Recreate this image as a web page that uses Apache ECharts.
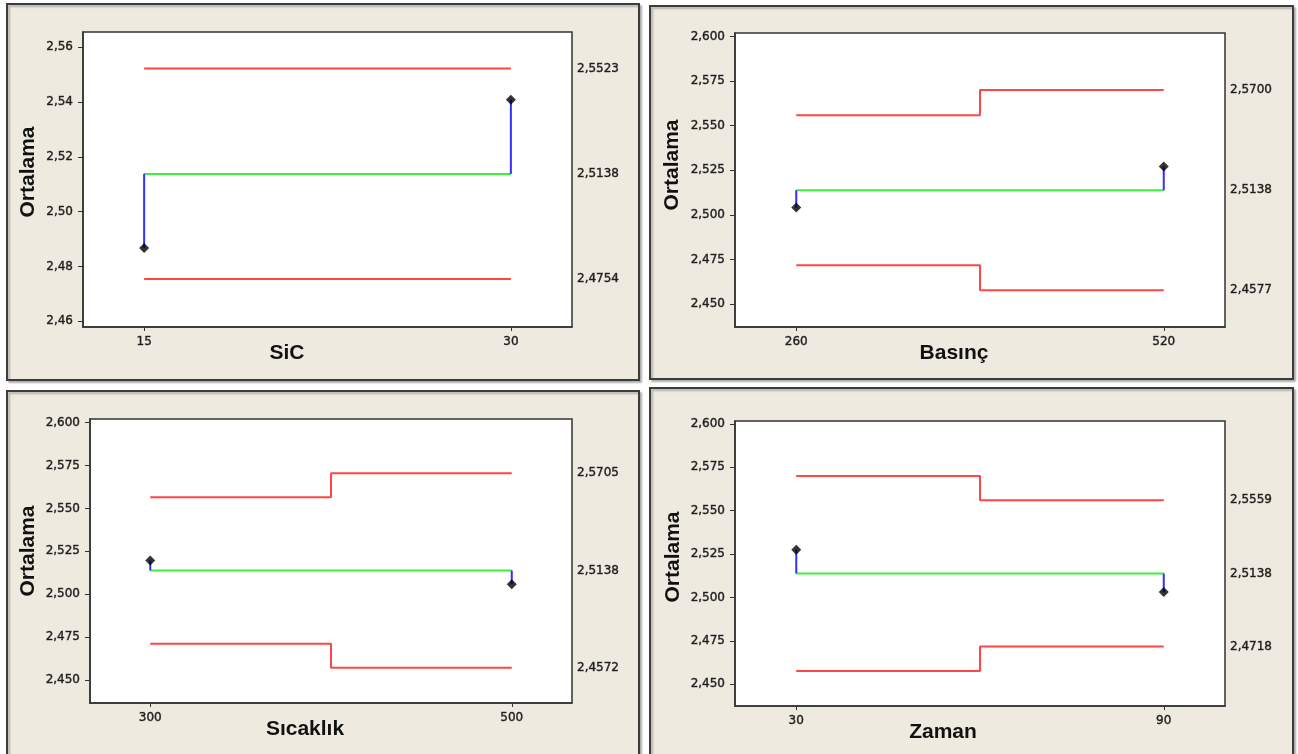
<!DOCTYPE html>
<html><head><meta charset="utf-8">
<script src="https://cdn.jsdelivr.net/npm/echarts@6/dist/echarts.min.js"></script>
<style>html,body{margin:0;padding:0;background:#fff}#c{width:1298px;height:754px}</style>
</head><body><div id="c"></div>
<script>
// ---- data ----
const grandMean = 2.5138;

const sicLevels = [15, 30];
const sicMeans  = [2.4867, 2.5409];
const sicUCL    = [2.5523, 2.5523];
const sicLCL    = [2.4754, 2.4754];

const basincLevels = [260, 520];
const basincMeans  = [2.5041, 2.5271];
const basincUCL    = [2.5559, 2.5700];
const basincLCL    = [2.4718, 2.4577];

const sicaklikLevels = [300, 500];
const sicaklikMeans  = [2.5196, 2.5058];
const sicaklikUCL    = [2.5565, 2.5705];
const sicaklikLCL    = [2.4711, 2.4572];

const zamanLevels = [30, 90];
const zamanMeans  = [2.5275, 2.5031];
const zamanUCL    = [2.5700, 2.5559];
const zamanLCL    = [2.4577, 2.4718];

const yTicksSic = [2.46, 2.48, 2.50, 2.52, 2.54, 2.56];
const yTicksOther = [2.450, 2.475, 2.500, 2.525, 2.550, 2.575, 2.600];

const xTitles = ['SiC', 'Basınç', 'Sıcaklık', 'Zaman'];
const yTitle = 'Ortalama';

// ---- layout ----
const panels = [
  {levels: sicLevels, means: sicMeans, ucl: sicUCL, lcl: sicLCL, yTicks: yTicksSic, dec: 2,
   grid: {left: 83, top: 32, width: 489, height: 295}, yMin: 2.4579, yMax: 2.5656, xMin: 12.5, xMax: 32.5,
   rect: [7, 4, 632, 376], yT: [28, 172], xT: [287, 353]},
  {levels: basincLevels, means: basincMeans, ucl: basincUCL, lcl: basincLCL, yTicks: yTicksOther, dec: 3,
   grid: {left: 735, top: 33, width: 490, height: 294}, yMin: 2.4371, yMax: 2.6020, xMin: 216.67, xMax: 563.33,
   rect: [650, 6, 643, 373], yT: [672, 165], xT: [954, 353]},
  {levels: sicaklikLevels, means: sicaklikMeans, ucl: sicaklikUCL, lcl: sicaklikLCL, yTicks: yTicksOther, dec: 3,
   grid: {left: 90, top: 419, width: 482, height: 284}, yMin: 2.4366, yMax: 2.6021, xMin: 266.67, xMax: 533.33,
   rect: [7, 391, 632, 372], yT: [28, 551], xT: [305, 729]},
  {levels: zamanLevels, means: zamanMeans, ucl: zamanUCL, lcl: zamanLCL, yTicks: yTicksOther, dec: 3,
   grid: {left: 735, top: 421, width: 490, height: 285}, yMin: 2.4375, yMax: 2.6016, xMin: 20, xMax: 100,
   rect: [650, 388, 643, 374], yT: [673, 557], xT: [943, 732]}
];

const tickFont = {fontFamily: 'DejaVu Sans', fontSize: 12, color: '#1e1e1e', textBorderColor: '#3a3a3a', textBorderWidth: 0.45};
const fmt = d => v => v.toFixed(d).replace('.', ',');

const grids = [], xAxes = [], yAxes = [], series = [], graphics = [];

panels.forEach((p, i) => {
  graphics.push({type: 'rect', z: -10, shape: {x: p.rect[0], y: p.rect[1], width: p.rect[2], height: p.rect[3]},
    style: {fill: '#eeeae0', stroke: '#3c3c3c', lineWidth: 2, shadowColor: 'rgba(0,0,0,0.25)', shadowBlur: 2, shadowOffsetX: 2, shadowOffsetY: 2}});
  graphics.push({type: 'text', z: 10, x: p.yT[0], y: p.yT[1], rotation: Math.PI / 2,
    style: {text: yTitle, fontFamily: 'Liberation Sans', fontWeight: 'bold', fontSize: 21, fill: '#111', textAlign: 'center', textVerticalAlign: 'middle'}});
  graphics.push({type: 'text', z: 10, x: p.xT[0], y: p.xT[1],
    style: {text: xTitles[i], fontFamily: 'Liberation Sans', fontWeight: 'bold', fontSize: 21, fill: '#111', textAlign: 'center', textVerticalAlign: 'middle'}});

  grids.push(Object.assign({show: true, backgroundColor: '#ffffff', borderColor: '#333', borderWidth: 1.5, containLabel: false}, p.grid));

  xAxes.push({gridIndex: i, type: 'value', min: p.xMin, max: p.xMax,
    axisLine: {show: true, onZero: false, lineStyle: {color: '#333', width: 1.5}},
    axisTick: {show: true, length: 4, customValues: p.levels, lineStyle: {color: '#333'}},
    axisLabel: Object.assign({customValues: p.levels, margin: 9, formatter: v => String(v)}, tickFont),
    splitLine: {show: false}});

  yAxes.push({gridIndex: i, type: 'value', min: p.yMin, max: p.yMax, position: 'left',
    axisLine: {show: true, onZero: false, lineStyle: {color: '#333', width: 1.5}},
    axisTick: {show: true, length: 5, customValues: p.yTicks, lineStyle: {color: '#333'}},
    axisLabel: Object.assign({customValues: p.yTicks, margin: 10, formatter: fmt(p.dec)}, tickFont),
    splitLine: {show: false}});
  const n = p.levels.length - 1;
  yAxes.push({gridIndex: i, type: 'value', min: p.yMin, max: p.yMax, position: 'right',
    axisLine: {show: false}, axisTick: {show: false},
    axisLabel: Object.assign({customValues: [p.lcl[n], grandMean, p.ucl[n]], margin: 5, formatter: fmt(4)}, tickFont),
    splitLine: {show: false}});

  const base = {xAxisIndex: i, yAxisIndex: 2 * i, type: 'line', symbol: 'none', silent: true, animation: false};
  series.push(Object.assign({}, base, {step: 'middle', data: p.levels.map((x, j) => [x, p.ucl[j]]), lineStyle: {color: '#ff4545', width: 2}}));
  series.push(Object.assign({}, base, {step: 'middle', data: p.levels.map((x, j) => [x, p.lcl[j]]), lineStyle: {color: '#ff4545', width: 2}}));
  series.push(Object.assign({}, base, {data: p.levels.map(x => [x, grandMean]), lineStyle: {color: '#3cf03c', width: 2}}));
  p.levels.forEach((x, j) => {
    series.push(Object.assign({}, base, {data: [[x, grandMean], [x, p.means[j]]], lineStyle: {color: '#3030ff', width: 2}}));
  });
  series.push({xAxisIndex: i, yAxisIndex: 2 * i, type: 'scatter', symbol: 'diamond', symbolSize: 10, z: 5, animation: false,
    itemStyle: {color: '#000'}, data: p.levels.map((x, j) => [x, p.means[j]])});
});

const chart = echarts.init(document.getElementById('c'), null, {renderer: 'canvas'});
chart.setOption({backgroundColor: '#ffffff', animation: false, grid: grids, xAxis: xAxes, yAxis: yAxes, series: series, graphic: graphics});
</script></body></html>
